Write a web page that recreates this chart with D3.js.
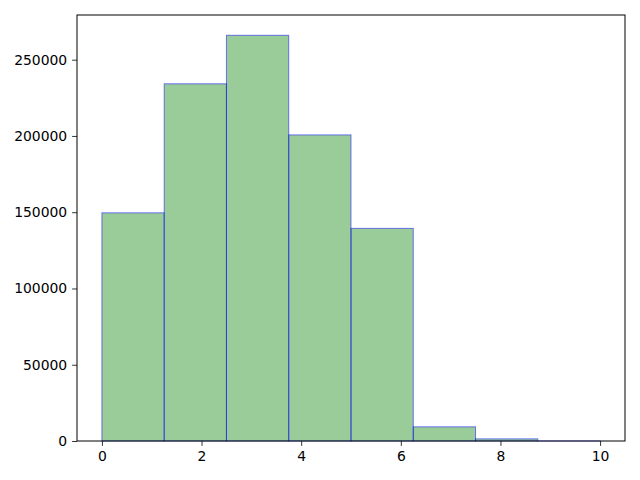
<!DOCTYPE html>
<html>
<head>
<meta charset="utf-8">
<script src="https://cdn.jsdelivr.net/npm/d3@7"></script>
<style>
	body { margin: 0; background: white; }
	text { font-family: "DejaVu Sans", sans-serif; }
</style>
</head>
<body>
<script>
// histogram bins (edges) and counts
var bin_edges = [0, 1.25, 2.5, 3.75, 5, 6.25, 7.5, 8.75, 10];
var counts = [149600, 234200, 266000, 200700, 139400, 9300, 1400, 20];
var x_ticks = [0, 2, 4, 6, 8, 10];
var y_ticks = [0, 50000, 100000, 150000, 200000, 250000];

var width = 640,
	height = 480;
var margin = {top: 15, right: 15, bottom: 39, left: 77};
var FONTSIZE = 13.9;

var svg = d3.select("body").append("svg")
	.attr("width", width)
	.attr("height", height);

var x = d3.scaleLinear()
	.domain([-0.5, 10.5])
	.range([margin.left, width - margin.right]);

var y = d3.scaleLinear()
	.domain([0, d3.max(counts) * 1.05])
	.range([height - margin.bottom, margin.top]);

var bins = counts.map(function(c, i) {
	return {x0: bin_edges[i], x1: bin_edges[i + 1], count: c};
});

// bars
svg.append("g")
	.selectAll("rect")
	.data(bins)
	.enter().append("rect")
	.attr("x", function(d) { return x(d.x0); })
	.attr("y", function(d) { return y(d.count); })
	.attr("width", function(d) { return x(d.x1) - x(d.x0); })
	.attr("height", function(d) { return y(0) - y(d.count); })
	.attr("fill", "green")
	.attr("fill-opacity", 0.4)
	.attr("stroke", "blue")
	.attr("stroke-opacity", 0.5)
	.attr("stroke-width", 1);

// axes
var x_axis = svg.append("g")
	.attr("transform", "translate(0," + (height - margin.bottom) + ")")
	.call(d3.axisBottom(x).tickValues(x_ticks).tickSize(4.9).tickPadding(4.9)
		.tickFormat(d3.format("d")));

var y_axis = svg.append("g")
	.attr("transform", "translate(" + margin.left + ",0)")
	.call(d3.axisLeft(y).tickValues(y_ticks).tickSize(4.9).tickPadding(4.9)
		.tickFormat(d3.format("d")));

[x_axis, y_axis].forEach(function(a) {
	a.select(".domain").remove();
	a.selectAll("text")
		.style("font-size", FONTSIZE + "px")
		.attr("fill", "black");
	a.selectAll("line").attr("stroke", "black").attr("stroke-width", 0.8);
});

// frame
svg.append("rect")
	.attr("x", margin.left)
	.attr("y", margin.top)
	.attr("width", width - margin.left - margin.right)
	.attr("height", height - margin.top - margin.bottom)
	.attr("fill", "none")
	.attr("stroke", "black")
	.attr("stroke-width", 1);
</script>
</body>
</html>
